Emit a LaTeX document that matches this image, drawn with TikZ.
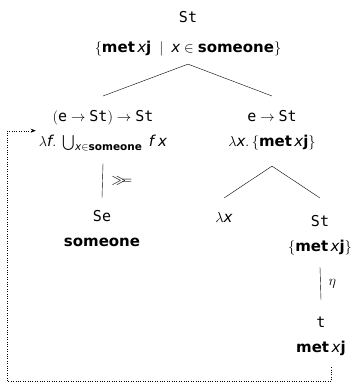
\documentclass[tikz,border=0pt]{standalone}
\usepackage{amsmath,amssymb}
\usepackage{fontspec}
\setmainfont{DejaVu Sans}
\setmonofont{DejaVu Sans Mono}
\usetikzlibrary{
  arrows.meta
}
\newcommand{\ty}[1]{\texttt{#1}}
\newcommand{\vx}{\textit{x}}
\newcommand{\vf}{\textit{f}}
\newcommand{\met}{\textbf{met}}
\newcommand{\jj}{\textbf{j}}
\newcommand{\sone}{\textbf{someone}}

\begin{document}
\begin{tikzpicture}[
  font=\fontsize{15}{25}\selectfont,
  >=Stealth,
  every node/.style={anchor=north, align=center, inner sep=2pt},
  branch/.style={draw},
  lbl/.style={anchor=west, inner sep=0pt},
  loopline/.style={dotted, shorten >=1pt, -{Stealth[length=5pt,width=4pt]}}
]
\useasboundingbox (0,0) rectangle (355pt,-383pt);

% Nodes of the derivation
\node (root) at (188pt,-9pt)  {\ty{St}\\[5pt]$\{\met\,\vx\jj \;\mid\; \vx \in \sone\}$};
\node (fun)  at (103pt,-108pt) {$(\ty{e} \rightarrow \ty{St}) \rightarrow \ty{St}$\\$\lambda\vf.\;\bigcup_{\vx\in\sone}\;\vf\;\vx$};
\node (abs)  at (272pt,-108pt) {$\ty{e} \rightarrow \ty{St}$\\$\lambda\vx.\,\{\met\,\vx\jj\}$};
\node (se)   at (102pt,-208pt) {\ty{Se}\\\sone};
\node (lam)  at (224pt,-210pt) {$\lambda\vx$};
\node (body) at (320pt,-213pt) {\ty{St}\\$\{\met\,\vx\jj\}$};
\node (bot)  at (321pt,-315pt) {\ty{t}\\\met\,\vx\jj};

% Branches
\draw[branch] ([yshift=-6pt]root.south) -- ([yshift=12pt]fun.north);
\draw[branch] ([yshift=-6pt]root.south) -- ([yshift=12pt]abs.north);
\draw[branch] ([yshift=-14pt]abs.south) -- ([yshift=12pt]lam.north);
\draw[branch] ([yshift=-14pt]abs.south) -- ([yshift=15pt]body.north);
\draw[branch] ([yshift=-10pt]fun.south) -- node[lbl, xshift=9pt] {$\gg\!\!=$} ([yshift=10pt]se.north);
\draw[branch] ([yshift=-10pt]body.south) -- node[lbl, xshift=8pt] {$\eta$} ([yshift=15pt]bot.north);

% Feedback loop
\coordinate (corner) at (7pt,-381pt);
\draw[loopline] ([xshift=10pt,yshift=-9pt]bot.south) |- (corner) |- (fun.west);

\end{tikzpicture}
\end{document}
